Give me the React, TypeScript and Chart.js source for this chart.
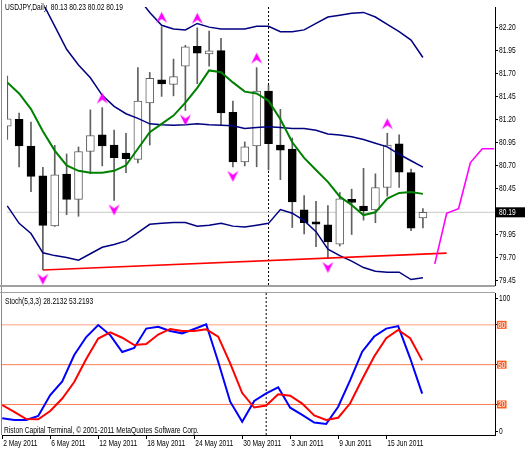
import React, { useEffect, useRef } from 'react';
import { Chart, registerables } from 'chart.js';

Chart.register(...registerables);

// ---------------- data ----------------
const dateLabels = ['2 May 2011', '6 May 2011', '12 May 2011', '18 May 2011', '24 May 2011', '30 May 2011', '3 Jun 2011', '9 Jun 2011', '15 Jun 2011'];
const dateBars = [0, 4, 8, 12, 16, 20, 24, 28, 32];

const opens = [81.125, 81.198, 80.910, 80.587, 80.043, 80.605, 80.330, 80.850, 81.031, 80.920, 80.834, 80.764, 81.378, 81.628, 81.579, 81.776, 81.992, 81.909, 81.945, 81.274, 80.736, 80.910, 81.506, 80.920, 80.875, 80.216, 80.088, 80.053, 79.845, 80.330, 80.257, 80.216, 80.459, 80.934, 80.621, 80.13];
const highs = [81.669, 81.267, 81.170, 80.678, 80.917, 80.823, 80.899, 81.302, 81.326, 81.083, 81.048, 81.760, 81.708, 82.203, 81.853, 82.002, 82.193, 82.158, 82.078, 81.396, 80.954, 81.760, 81.568, 81.308, 80.996, 80.372, 80.309, 80.264, 80.405, 80.441, 80.667, 80.608, 81.048, 81.031, 80.660, 80.23];
const lows = [80.982, 80.684, 80.413, 79.567, 80.036, 80.164, 80.147, 80.608, 80.694, 80.320, 80.621, 80.725, 80.920, 81.448, 81.454, 81.295, 81.586, 81.776, 81.135, 80.684, 80.694, 80.684, 80.650, 80.545, 80.025, 79.955, 79.817, 79.695, 79.824, 79.949, 80.105, 80.077, 80.365, 80.459, 79.991, 80.02];
const closes = [81.204, 80.910, 80.580, 80.049, 80.598, 80.330, 80.850, 81.024, 80.910, 80.782, 80.771, 81.396, 81.645, 81.583, 81.662, 81.985, 81.916, 81.943, 81.269, 80.736, 80.902, 81.506, 80.934, 80.865, 80.303, 80.077, 80.060, 79.869, 80.337, 80.296, 80.209, 80.459, 80.920, 80.626, 80.018, 80.19];

const bbUpper = [null, null, null, null, null, null, null, null, null, null, null, 82.52, 82.36, 82.22, 82.18, 82.17, 82.24, 82.20, 82.18, 82.18, 82.18, 82.21, 82.21, 82.15, 82.15, 82.17, 82.24, 82.31, 82.33, 82.35, 82.36, 82.31, 82.23, 82.15, 82.06, 81.87];
const bbMiddle = [null, null, 82.71, 82.46, 82.21, 81.96, 81.79, 81.65, 81.46, 81.34, 81.26, 81.21, 81.15, 81.14, 81.135, 81.14, 81.15, 81.14, 81.135, 81.13, 81.10, 81.11, 81.12, 81.11, 81.10, 81.10, 81.08, 81.04, 81.03, 81.01, 80.98, 80.94, 80.90, 80.82, 80.75, 80.68];
const bbLower = [80.26, 80.07, 79.96, 79.75, 79.72, 79.70, 79.67, 79.74, 79.81, 79.84, 79.88, 79.97, 80.06, 80.07, 80.08, 80.08, 80.04, 80.05, 80.07, 80.04, 80.03, 80.05, 80.07, 80.22, 80.18, 80.10, 79.98, 79.79, 79.72, 79.66, 79.59, 79.55, 79.54, 79.54, 79.46, 79.48];
const maGreen = [81.60, 81.48, 81.31, 81.07, 80.86, 80.70, 80.64, 80.62, 80.62, 80.64, 80.70, 80.88, 81.06, 81.15, 81.24, 81.38, 81.54, 81.73, 81.71, 81.60, 81.50, 81.48, 81.40, 81.20, 80.95, 80.78, 80.65, 80.52, 80.36, 80.27, 80.16, 80.19, 80.34, 80.40, 80.41, 80.39];

const projBars = [36, 37, 38, 39, 40, 41];
const projValues = [79.63, 80.18, 80.23, 80.73, 80.88, 80.88];
const trendBars = [3, 37];
const trendValues = [79.564, 79.747];

const upFractals = [8, 13, 16, 21, 32];
const downFractals = [3, 9, 15, 19, 27];

const stochK = [9.6, 8.3, 8.3, 11.3, 27.1, 37.3, 57.3, 70.8, 79.9, 72.3, 59.5, 62.6, 77.2, 78.6, 75.4, 73.6, 76.9, 80.4, 52.2, 22.1, 7.0, 22.6, 28.3, 32.9, 17.6, 12.1, 6.4, 5.3, 18.3, 38.4, 59.8, 71.2, 77.2, 79.1, 54.8, 28.2132];
const stochD = [19.6, 14.5, 9.0, 8.8, 15.1, 24.5, 36.9, 54.3, 69.7, 74.4, 70.3, 64.8, 65.6, 72.7, 76.9, 75.4, 75.4, 76.6, 71.1, 51.0, 28.6, 17.7, 19.2, 27.7, 26.6, 20.7, 11.7, 8.3, 10.0, 20.9, 39.0, 56.1, 69.9, 76.1, 69.9, 53.2193];

const priceTicks = [79.45, 79.70, 79.95, 80.19, 80.45, 80.70, 80.95, 81.20, 81.45, 81.70, 81.95, 82.20];
const lastPrice = 80.19;
const stochTicks = [0, 20, 50, 80, 100];
const stochLevels = [20, 50, 80];
const markerBar = 22;

const titleText = 'USDJPY,Daily  80.13 80.23 80.02 80.19';
const stochText = 'Stoch(5,3,3) 28.2132 53.2193';
const copyrightText = 'Riston Capital Terminal, \u00A9 2001-2011 MetaQuotes Software Corp.';

// ---------------- styles ----------------
const FONT = '9px "Liberation Sans", Arial, sans-serif';
const NARROW = 0.74;
const X_MIN = -0.02;
const X_MAX = 41.07;
const Y_MIN = 79.401;
const Y_MAX = 82.4185;
const S_MIN = -3;
const S_MAX = 104;

function drawText(ctx: CanvasRenderingContext2D, text: string, x: number, y: number, color = '#000', bg: string | null = null) {
  ctx.save();
  ctx.font = FONT;
  ctx.textBaseline = 'middle';
  ctx.textAlign = 'left';
  ctx.translate(x, y);
  ctx.scale(NARROW, 1);
  if (bg) {
    const w = ctx.measureText(text).width;
    ctx.fillStyle = bg;
    ctx.fillRect(-1.5, -4, w + 3, 8);
  }
  ctx.fillStyle = color;
  ctx.fillText(text, 0, 0.5);
  ctx.restore();
}

function makeArrow(up: boolean): HTMLCanvasElement {
  const c = document.createElement('canvas');
  c.width = 13;
  c.height = 32;
  const g = c.getContext('2d')!;
  const cx = 6.5;
  const cy = up ? 7 : 25;
  const s = up ? 1 : -1;
  g.fillStyle = '#FF00FF';
  g.beginPath();
  g.moveTo(cx, cy - 6 * s);
  g.lineTo(cx + 5.5, cy + 5 * s);
  g.lineTo(cx, cy + 1 * s);
  g.lineTo(cx - 5.5, cy + 5 * s);
  g.closePath();
  g.fill();
  return c;
}

const lineDs = (label: string, data: any[], color: string, width: number, order: number, extra: any = {}) => ({
  type: 'line' as const,
  label,
  data,
  borderColor: color,
  borderWidth: width,
  pointRadius: 0,
  fill: false,
  tension: 0,
  order,
  ...extra,
});

export default function App() {
  const priceRef = useRef<HTMLCanvasElement>(null);
  const stochRef = useRef<HTMLCanvasElement>(null);

  useEffect(() => {
    const upArrow = makeArrow(true);
    const downArrow = makeArrow(false);
    const bars = opens.map((_, i) => i);
    const isUp = bars.map((i) => closes[i] > opens[i]);

    const pricePlugin = {
      id: 'pricePanel',
      afterDraw(chart: any) {
        const ctx = chart.ctx;
        const a = chart.chartArea;
        const ys = chart.scales.y;
        ctx.save();
        ctx.fillStyle = '#8a8a8a';
        ctx.fillRect(1, 0, 1, chart.height);
        ctx.fillStyle = '#a0a0a0';
        ctx.fillRect(0, a.bottom, a.right, 2);
        ctx.restore();
        drawText(ctx, titleText, 5, 7);
        for (const v of priceTicks) {
          const py = ys.getPixelForValue(v);
          if (v === lastPrice) {
            ctx.save();
            ctx.fillStyle = '#000';
            ctx.fillRect(ys.left + 1, py - 5, chart.width - ys.left - 1, 10);
            ctx.restore();
            drawText(ctx, v.toFixed(2), ys.left + 4, py, '#FFFFFF');
          } else {
            drawText(ctx, v.toFixed(2), ys.left + 4, py, '#000');
          }
        }
      },
    };

    const stochPlugin = {
      id: 'stochPanel',
      afterDraw(chart: any) {
        const ctx = chart.ctx;
        const a = chart.chartArea;
        const ys = chart.scales.y;
        const xs = chart.scales.x;
        ctx.save();
        ctx.fillStyle = '#8a8a8a';
        ctx.fillRect(1, 0, 1, a.bottom);
        ctx.fillStyle = '#a0a0a0';
        ctx.fillRect(0, 0, a.right, 1);
        ctx.restore();
        drawText(ctx, stochText, 5, 9.5);
        drawText(ctx, copyrightText, 4, a.bottom - 4.5);
        for (const v of stochTicks) {
          const py = ys.getPixelForValue(v);
          if (stochLevels.includes(v)) {
            drawText(ctx, String(v), ys.left + 3, py, '#FFFFFF', '#FF5A1E');
          } else {
            drawText(ctx, String(v), ys.left + 4, py, '#000');
          }
        }
        dateBars.forEach((b, i) => {
          drawText(ctx, dateLabels[i], xs.getPixelForValue(b) + 1, xs.top + 8);
        });
      },
    };

    const priceChart = new Chart(priceRef.current!, {
      type: 'line',
      data: {
        datasets: [
          {
            type: 'scatter',
            label: 'up fractals',
            data: upFractals.map((i) => ({ x: i, y: highs[i] })),
            pointStyle: upArrow,
            pointRadius: 6,
            order: 0,
          } as any,
          {
            type: 'scatter',
            label: 'down fractals',
            data: downFractals.map((i) => ({ x: i, y: lows[i] })),
            pointStyle: downArrow,
            pointRadius: 6,
            order: 0,
          } as any,
          lineDs('projection', projBars.map((b, i) => ({ x: b, y: projValues[i] })), '#FF00FF', 1.6, 1),
          lineDs('trend', trendBars.map((b, i) => ({ x: b, y: trendValues[i] })), '#FF0000', 1.6, 1),
          lineDs('ma', bars.map((i) => ({ x: i, y: maGreen[i] })), '#008000', 2, 2),
          lineDs('bb upper', bars.map((i) => ({ x: i, y: bbUpper[i] })), '#000080', 1.5, 3),
          lineDs('bb middle', bars.map((i) => ({ x: i, y: bbMiddle[i] })), '#000080', 1.5, 3),
          lineDs('bb lower', bars.map((i) => ({ x: i, y: bbLower[i] })), '#000080', 1.5, 3),
          {
            type: 'bar',
            label: 'bodies',
            data: bars.map((i) => ({ x: i, y: [opens[i], closes[i]] })),
            backgroundColor: isUp.map((u) => (u ? '#FFFFFF' : '#000000')),
            borderColor: isUp.map((u) => (u ? '#606060' : '#000000')),
            borderWidth: 1,
            borderSkipped: false,
            barThickness: 8,
            grouped: false,
            order: 5,
          } as any,
          {
            type: 'bar',
            label: 'wicks',
            data: bars.map((i) => ({ x: i, y: [lows[i], highs[i]] })),
            backgroundColor: '#606060',
            borderWidth: 0,
            barThickness: 1,
            grouped: false,
            order: 6,
          } as any,
          lineDs('last', [{ x: X_MIN, y: lastPrice }, { x: X_MAX, y: lastPrice }], '#c8c8c8', 1, 7),
          lineDs('marker', [{ x: markerBar, y: Y_MIN }, { x: markerBar, y: Y_MAX }], '#000000', 1, 7, { borderDash: [2, 2] }),
        ],
      },
      options: {
        animation: false,
        responsive: false,
        events: [],
        layout: { padding: { left: 2, top: 0, right: 0, bottom: 2 } },
        plugins: { legend: { display: false }, tooltip: { enabled: false } },
        scales: {
          x: {
            type: 'linear',
            min: X_MIN,
            max: X_MAX,
            offset: false,
            display: false,
          },
          y: {
            type: 'linear',
            position: 'right',
            min: Y_MIN,
            max: Y_MAX,
            afterBuildTicks: (s: any) => {
              s.ticks = priceTicks.map((v) => ({ value: v }));
            },
            afterFit: (s: any) => {
              s.width = 30;
              s.paddingTop = 0;
              s.paddingBottom = 0;
            },
            ticks: { display: false },
            grid: { drawOnChartArea: false, tickLength: 3, color: '#000', tickColor: '#000' },
            border: { display: true, color: '#000' },
          },
        },
      } as any,
      plugins: [pricePlugin],
    });

    const stochChart = new Chart(stochRef.current!, {
      type: 'line',
      data: {
        datasets: [
          lineDs('signal', bars.map((i) => ({ x: i, y: stochD[i] })), '#FF0000', 2, 0),
          lineDs('main', bars.map((i) => ({ x: i, y: stochK[i] })), '#0000FF', 2, 1),
          ...stochLevels.map((lv) =>
            lineDs('level ' + lv, [{ x: X_MIN, y: lv }, { x: X_MAX, y: lv }], lv === 80 ? '#FFA080' : '#FF7F50', 1, 5)
          ),
          lineDs('marker', [{ x: markerBar, y: S_MIN }, { x: markerBar, y: S_MAX }], '#000000', 1, 6, { borderDash: [2, 2] }),
        ],
      },
      options: {
        animation: false,
        responsive: false,
        events: [],
        layout: { padding: { left: 2, top: 1, right: 0, bottom: 0 } },
        plugins: { legend: { display: false }, tooltip: { enabled: false } },
        scales: {
          x: {
            type: 'linear',
            min: X_MIN,
            max: X_MAX,
            offset: false,
            position: 'bottom',
            afterBuildTicks: (s: any) => {
              s.ticks = dateBars.map((v) => ({ value: v }));
            },
            afterFit: (s: any) => {
              s.height = 15;
              s.paddingLeft = 0;
              s.paddingRight = 0;
            },
            ticks: { display: false },
            grid: { drawOnChartArea: false, tickLength: 4, color: '#000', tickColor: '#000' },
            border: { display: true, color: '#000' },
          },
          y: {
            type: 'linear',
            position: 'right',
            min: S_MIN,
            max: S_MAX,
            afterBuildTicks: (s: any) => {
              s.ticks = stochTicks.map((v) => ({ value: v }));
            },
            afterFit: (s: any) => {
              s.width = 30;
              s.paddingTop = 0;
              s.paddingBottom = 0;
            },
            ticks: { display: false },
            grid: { drawOnChartArea: false, tickLength: 3, color: '#000', tickColor: '#000' },
            border: { display: true, color: '#000' },
          },
        },
      } as any,
      plugins: [stochPlugin],
    });

    return () => {
      priceChart.destroy();
      stochChart.destroy();
    };
  }, []);

  return (
    <div style={{ position: 'fixed', left: 0, top: 0, width: 525, height: 450, background: '#FFFFFF' }}>
      <canvas ref={priceRef} width={525} height={292} style={{ position: 'absolute', left: 0, top: 0 }} />
      <canvas ref={stochRef} width={525} height={158} style={{ position: 'absolute', left: 0, top: 292 }} />
    </div>
  );
}
